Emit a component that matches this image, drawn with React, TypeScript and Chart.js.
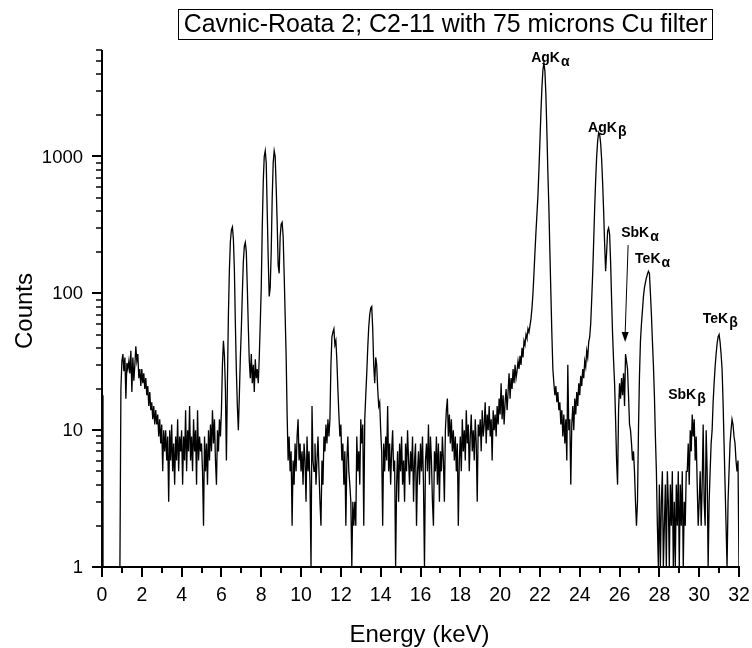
import { useEffect, useRef } from "react";
import { Chart, registerables } from "chart.js";

Chart.register(...registerables);

// Spectrum channels: energy = ENERGY_START + index * ENERGY_STEP (keV)
const ENERGY_START = 0;
const ENERGY_STEP = 0.05;

// Counts per channel (one row per keV)
const COUNTS: number[] = [
  18, 1, 1, 1, 1, 1, 1, 1, 1, 1, 1, 1, 1, 1, 1, 1, 1, 1, 1, 20,
  32, 36, 27, 34, 17, 31, 28, 32, 26, 38, 19, 34, 23, 30, 41, 32, 36, 24, 28, 21,
  28, 22, 26, 20, 24, 18, 21, 15, 19, 14, 16, 12, 15, 11, 14, 11, 13, 9, 12, 8,
  11, 5, 10, 7, 10, 6, 9, 3, 10, 6, 11, 5, 8, 4, 9, 6, 12, 5, 9, 7,
  10, 4, 9, 6, 14, 5, 10, 7, 15, 6, 9, 5, 12, 7, 10, 4, 14, 6, 9, 7,
  8, 5, 2, 9, 5, 8, 4, 10, 6, 11, 7, 14, 8, 12, 6, 4, 10, 7, 12, 9,
  14, 30, 45, 35, 20, 6, 22, 70, 150, 240, 290, 305, 250, 150, 60, 27, 15, 10, 18, 34,
  55, 100, 170, 220, 235, 200, 110, 57, 32, 24, 36, 22, 30, 19, 33, 24, 28, 22, 34, 60,
  110, 300, 650, 1000, 1100, 900, 400, 180, 95, 110, 200, 500, 900, 1100, 1000, 600, 330, 160, 140, 260,
  320, 330, 260, 140, 70, 35, 13, 6, 9, 5, 7, 2, 6, 4, 8, 5, 9, 12, 6, 8,
  5, 7, 4, 8, 6, 3, 9, 5, 7, 4, 1, 15, 6, 5, 8, 4, 6, 9, 5, 3,
  2, 6, 4, 9, 7, 11, 8, 12, 9, 12, 30, 48, 52, 55, 42, 45, 32, 20, 13, 9,
  11, 6, 8, 4, 7, 2, 6, 9, 5, 4, 3, 1, 3, 2, 3, 2, 9, 5, 7, 4,
  12, 8, 11, 2, 12, 18, 26, 40, 57, 70, 78, 80, 55, 30, 22, 34, 30, 20, 15, 16,
  10, 7, 2, 8, 5, 9, 6, 15, 5, 8, 4, 7, 10, 5, 6, 1, 4, 7, 3, 8,
  5, 9, 4, 6, 3, 8, 5, 10, 6, 4, 7, 5, 9, 3, 6, 8, 2, 5, 7, 4,
  8, 5, 9, 4, 1, 6, 8, 5, 11, 4, 9, 6, 3, 2, 7, 5, 9, 4, 8, 3,
  7, 5, 9, 6, 3, 10, 14, 17, 9, 13, 8, 12, 7, 10, 6, 9, 5, 8, 2, 6,
  9, 5, 12, 7, 10, 6, 14, 8, 11, 5, 9, 13, 7, 10, 6, 12, 8, 3, 11, 9,
  12, 7, 14, 9, 11, 16, 8, 13, 10, 15, 9, 12, 6, 14, 10, 13, 9, 15, 11, 17,
  13, 22, 12, 18, 11, 16, 20, 14, 19, 26, 17, 24, 20, 28, 22, 30, 24, 27, 32, 28,
  35, 30, 40, 34, 45, 42, 50, 47, 55, 52, 58, 65, 78, 100, 140, 200, 280, 380, 520, 800,
  1300, 2100, 3200, 4300, 4800, 4200, 2800, 1500, 750, 420, 200, 100, 50, 28, 22, 18, 21, 16, 19, 14,
  16, 11, 14, 9, 13, 8, 12, 6, 30, 10, 12, 4, 11, 15, 10, 17, 13, 19, 15, 22,
  18, 25, 21, 28, 24, 32, 29, 38, 34, 44, 48, 60, 90, 140, 240, 420, 680, 1000, 1300, 1500,
  1450, 1250, 950, 640, 400, 230, 145, 200, 285, 300, 270, 170, 90, 50, 32, 22, 12, 6, 4, 14,
  22, 17, 24, 18, 26, 15, 36, 32, 28, 18, 11, 10, 8, 6, 7, 5, 3, 2, 3, 10,
  25, 45, 60, 75, 95, 110, 120, 130, 138, 145, 140, 100, 70, 45, 30, 18, 9, 5, 2, 1,
  4, 1, 3, 5, 1, 2, 4, 1, 5, 3, 1, 4, 2, 5, 1, 3, 1, 4, 2, 5,
  1, 4, 2, 5, 1, 3, 2, 5, 5, 8, 4, 10, 7, 13, 9, 12, 6, 9, 4, 2,
  3, 5, 2, 4, 11, 3, 2, 10, 5, 1, 3, 5, 8, 10, 16, 22, 29, 36, 43, 48,
  50, 44, 36, 28, 16, 8, 4, 2, 1, 3, 5, 8, 10, 12, 11, 9, 8, 6, 5, 6,
  1,
];

const X_MIN = 0;
const X_MAX = 32;
const Y_MIN = 1;
const Y_MAX = 6000;
const X_MAJOR_TICKS = [0, 2, 4, 6, 8, 10, 12, 14, 16, 18, 20, 22, 24, 26, 28, 30, 32];
const X_MINOR_TICKS = [1, 3, 5, 7, 9, 11, 13, 15, 17, 19, 21, 23, 25, 27, 29, 31];
const Y_MAJOR_TICKS = [1, 10, 100, 1000];
const Y_MINOR_TICKS = [
  2, 3, 4, 5, 6, 7, 8, 9,
  20, 30, 40, 50, 60, 70, 80, 90,
  200, 300, 400, 500, 600, 700, 800, 900,
  2000, 3000, 4000, 5000, 6000,
];

const TITLE = "Cavnic-Roata 2; C2-11 with 75 microns Cu filter";
const X_LABEL = "Energy (keV)";
const Y_LABEL = "Counts";

// Peak annotations, anchored in data coordinates (energy, counts)
const PEAK_NAMES = ["AgK", "AgK", "SbK", "TeK", "TeK", "SbK"];
const PEAK_SUBS = ["α", "β", "α", "α", "β", "β"];
const PEAK_LABEL_E = [21.56, 24.42, 26.08, 26.78, 30.18, 28.44];
const PEAK_LABEL_C = [4920, 1514, 258, 167, 60.6, 16.9];
// Arrow from SbKα label down to its small peak
const ARROW_E = [26.43, 26.28];
const ARROW_C = [225, 44];

const FONT = '"Liberation Sans", Arial, Helvetica, sans-serif';

const decorPlugin = {
  id: "decor",
  afterDraw(chart: any) {
    const { ctx, chartArea: a, scales } = chart;
    const xs = scales.x;
    const ys = scales.y;
    ctx.save();
    ctx.fillStyle = "#000";
    ctx.strokeStyle = "#000";

    // axes
    ctx.lineWidth = 2;
    ctx.beginPath();
    ctx.moveTo(a.left, a.top);
    ctx.lineTo(a.left, a.bottom);
    ctx.lineTo(a.right + 1, a.bottom);
    ctx.stroke();

    // x ticks
    for (const v of X_MAJOR_TICKS) {
      const px = Math.round(xs.getPixelForValue(v));
      ctx.lineWidth = 2;
      ctx.beginPath();
      ctx.moveTo(px, a.bottom);
      ctx.lineTo(px, a.bottom + 10);
      ctx.stroke();
    }
    for (const v of X_MINOR_TICKS) {
      const px = Math.round(xs.getPixelForValue(v));
      ctx.lineWidth = 2;
      ctx.beginPath();
      ctx.moveTo(px, a.bottom);
      ctx.lineTo(px, a.bottom + 6);
      ctx.stroke();
    }
    // y ticks
    for (const v of Y_MAJOR_TICKS) {
      const py = Math.round(ys.getPixelForValue(v));
      ctx.lineWidth = 2;
      ctx.beginPath();
      ctx.moveTo(a.left - 10, py);
      ctx.lineTo(a.left, py);
      ctx.stroke();
    }
    for (const v of Y_MINOR_TICKS) {
      const py = Math.round(ys.getPixelForValue(v));
      ctx.lineWidth = 1.5;
      ctx.beginPath();
      ctx.moveTo(a.left - 6, py);
      ctx.lineTo(a.left, py);
      ctx.stroke();
    }

    // tick labels
    ctx.font = `19.5px ${FONT}`;
    ctx.textAlign = "center";
    ctx.textBaseline = "alphabetic";
    for (const v of X_MAJOR_TICKS) {
      ctx.fillText(String(v), xs.getPixelForValue(v), a.bottom + 34);
    }
    ctx.font = `18.5px ${FONT}`;
    ctx.textAlign = "right";
    ctx.textBaseline = "middle";
    for (const v of Y_MAJOR_TICKS) {
      ctx.fillText(String(v), a.left - 19, ys.getPixelForValue(v) + 1);
    }

    // axis titles
    ctx.font = `24px ${FONT}`;
    ctx.textAlign = "center";
    ctx.textBaseline = "alphabetic";
    ctx.fillText(X_LABEL, (a.left + a.right) / 2 - 1, 642);
    ctx.save();
    ctx.translate(32, 311);
    ctx.rotate(-Math.PI / 2);
    ctx.fillText(Y_LABEL, 0, 0);
    ctx.restore();

    // title box
    const boxL = 178, boxR = 712, boxT = 9, boxB = 39;
    ctx.lineWidth = 1;
    ctx.strokeRect(boxL + 0.5, boxT + 0.5, boxR - boxL, boxB - boxT);
    let fs = 24;
    ctx.font = `${fs}px ${FONT}`;
    const w = ctx.measureText(TITLE).width;
    fs = fs * 524 / w;
    ctx.font = `${fs}px ${FONT}`;
    ctx.textAlign = "center";
    ctx.textBaseline = "alphabetic";
    ctx.fillText(TITLE, (boxL + boxR) / 2 + 0.5, 32);

    // peak labels
    ctx.textAlign = "left";
    for (let i = 0; i < PEAK_NAMES.length; i++) {
      const px = xs.getPixelForValue(PEAK_LABEL_E[i]);
      const py = ys.getPixelForValue(PEAK_LABEL_C[i]);
      ctx.font = `bold 14px ${FONT}`;
      ctx.fillText(PEAK_NAMES[i], px, py);
      const tw = ctx.measureText(PEAK_NAMES[i]).width;
      ctx.font = `bold 14px ${FONT}`;
      ctx.fillText(PEAK_SUBS[i], px + tw + 1, py + 4);
    }

    // arrow
    const ax0 = xs.getPixelForValue(ARROW_E[0]);
    const ay0 = ys.getPixelForValue(ARROW_C[0]);
    const ax1 = xs.getPixelForValue(ARROW_E[1]);
    const ay1 = ys.getPixelForValue(ARROW_C[1]);
    ctx.lineWidth = 1;
    ctx.beginPath();
    ctx.moveTo(ax0, ay0);
    ctx.lineTo(ax1, ay1 - 8);
    ctx.stroke();
    ctx.beginPath();
    ctx.moveTo(ax1, ay1);
    ctx.lineTo(ax1 - 3.5, ay1 - 10);
    ctx.lineTo(ax1 + 3.5, ay1 - 10);
    ctx.closePath();
    ctx.fill();

    ctx.restore();
  },
};

export default function App() {
  const canvasRef = useRef<HTMLCanvasElement | null>(null);

  useEffect(() => {
    const canvas = canvasRef.current;
    if (!canvas) return;
    const points = COUNTS.map((c, i) => ({ x: ENERGY_START + i * ENERGY_STEP, y: c }));
    const chart = new Chart(canvas, {
      type: "line",
      data: {
        datasets: [
          {
            data: points,
            borderColor: "#000",
            borderWidth: 1.3,
            pointRadius: 0,
            tension: 0,
            fill: false,
          },
        ],
      },
      options: {
        animation: false,
        responsive: false,
        devicePixelRatio: 1,
        events: [],
        layout: { padding: { left: 102, top: 50, right: 13, bottom: 81 } },
        scales: {
          x: { type: "linear", min: X_MIN, max: X_MAX, display: false },
          y: { type: "logarithmic", min: Y_MIN, max: Y_MAX, display: false },
        },
        plugins: {
          legend: { display: false },
          tooltip: { enabled: false },
          title: { display: false },
        },
      },
      plugins: [decorPlugin],
    });
    return () => chart.destroy();
  }, []);

  return (
    <div style={{ position: "absolute", left: 0, top: 0, width: 752, height: 648, background: "#fff" }}>
      <canvas ref={canvasRef} width={752} height={648} style={{ display: "block" }} />
    </div>
  );
}
